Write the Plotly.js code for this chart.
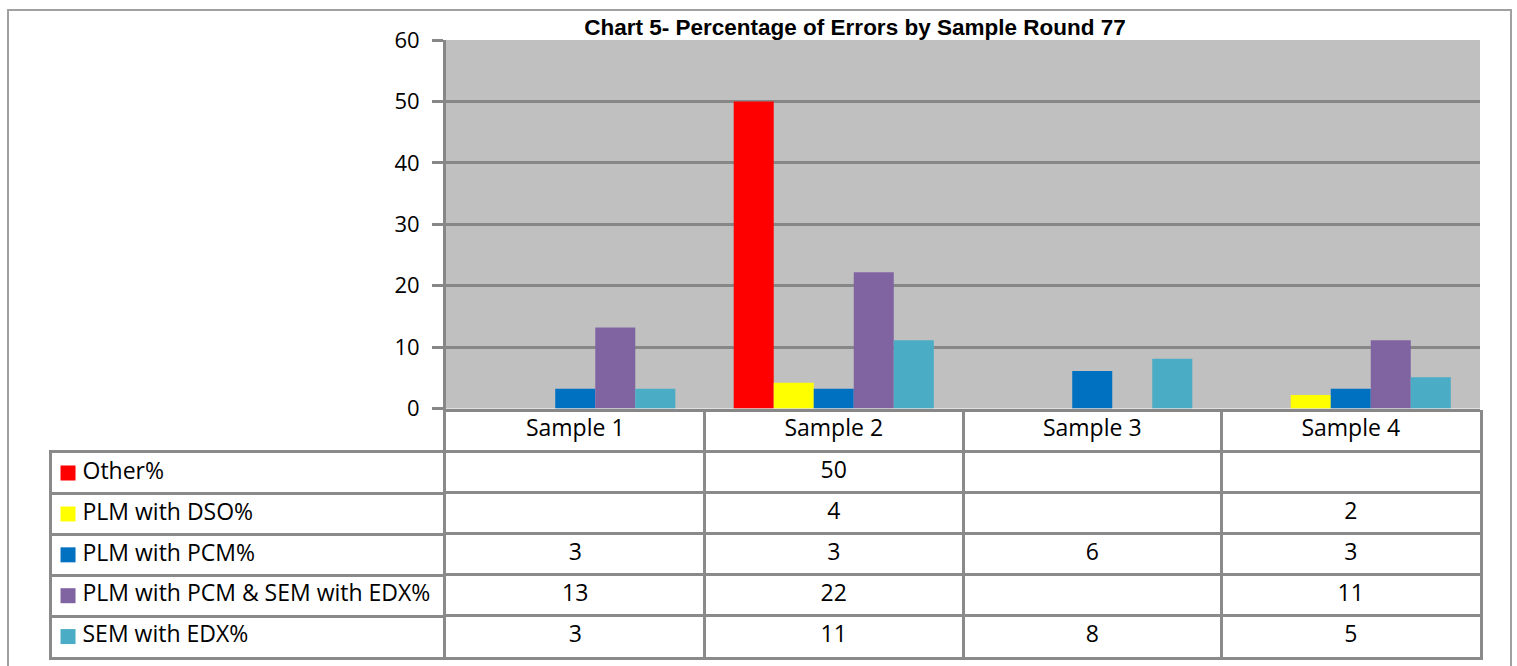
<!DOCTYPE html>
<html>
<head>
<meta charset="utf-8">
<script src="https://cdn.plot.ly/plotly-3.0.1.min.js"></script>
<style>html,body{margin:0;padding:0;background:#fff;}#chart{width:1517px;height:666px;}</style>
</head>
<body>
<div id="chart"></div>
<script>
// ---- data ----
const categories = ["Sample 1", "Sample 2", "Sample 3", "Sample 4"];
const seriesNames = ["Other%", "PLM with DSO%", "PLM with PCM%", "PLM with PCM & SEM with EDX%", "SEM with EDX%"];
const otherPct     = [null, 50,   null, null];
const plmDsoPct    = [null, 4.2,  null, 2.2];
const plmPcmPct    = [3.2,  3.2,  6.1,  3.2];
const plmPcmSemPct = [13.2, 22.2, null, 11.1];
const semEdxPct    = [3.2,  11.1, 8.1,  5.1];
const yTicks = [0, 10, 20, 30, 40, 50, 60];
const chartTitle = "Chart 5- Percentage of Errors by Sample Round 77";

// ---- style ----
const colors = ["#FF0000", "#FFFF00", "#0070C0", "#8064A2", "#4BACC6"];
const allSeries = [otherPct, plmDsoPct, plmPcmPct, plmPcmSemPct, semEdxPct];
const W = 1517, H = 666;
const px = v => v / W, py = v => 1 - v / H;
const gridCol = "#878787";
const tableLine = "#8a8a8a";
const font = "Open Sans, DejaVu Sans, sans-serif";
const txtFont = {family: font, size: 23, color: "#000"};
const HDR = " ";  // header row key of the data table
const rowKeys = [HDR].concat(seriesNames);

// ---- bars ----
const traces = allSeries.map((vals, i) => ({
  type: "bar",
  name: seriesNames[i],
  x: categories,
  y: vals,
  marker: {color: colors[i], line: {width: 0}},
  xaxis: "x", yaxis: "y",
  hoverinfo: "x+y+name"
}));

// ---- data table: sample columns (x2/y2) ----
traces.push({
  type: "scatter", mode: "text",
  x: categories, y: categories.map(() => HDR),
  text: categories,
  textposition: "middle center", textfont: txtFont,
  xaxis: "x2", yaxis: "y2", hoverinfo: "skip"
});
allSeries.forEach((vals, i) => {
  const xs = [], ys = [], ts = [];
  vals.forEach((v, ci) => {
    if (v !== null) { xs.push(categories[ci]); ys.push(seriesNames[i]); ts.push(String(Math.round(v))); }
  });
  traces.push({
    type: "scatter", mode: "text",
    x: xs, y: ys, text: ts,
    textposition: "middle center", textfont: txtFont,
    xaxis: "x2", yaxis: "y2", hoverinfo: "skip"
  });
});

// ---- data table: legend column (x3/y3) ----
traces.push({
  type: "scatter", mode: "markers",
  x: seriesNames.map(() => 0.041), y: seriesNames,
  marker: {symbol: "square", size: 15, color: colors, line: {width: 0}},
  xaxis: "x3", yaxis: "y3", hoverinfo: "skip"
});
traces.push({
  type: "scatter", mode: "text",
  x: seriesNames.map(() => 0.078), y: seriesNames,
  text: seriesNames,
  textposition: "middle right", textfont: txtFont,
  xaxis: "x3", yaxis: "y3", hoverinfo: "skip"
});

const tableTop = 410, tableBottom = 657;
const rowH = (tableBottom - tableTop) / rowKeys.length;

const tableAxis = {
  showticklabels: false, ticks: "",
  showgrid: true, gridcolor: tableLine, gridwidth: 3,
  showline: true, mirror: true, linecolor: tableLine, linewidth: 3,
  zeroline: false, fixedrange: true
};

const layout = {
  width: W, height: H,
  margin: {l: 0, r: 0, t: 0, b: 0},
  paper_bgcolor: "#ffffff",
  plot_bgcolor: "#ffffff",
  showlegend: false,
  barmode: "group",
  bargap: 0.226,
  bargroupgap: 0,
  title: {
    text: "<b>" + chartTitle + "</b>",
    x: px(855), xanchor: "center",
    y: 1 - 27 / H, yanchor: "middle",
    font: {family: "Liberation Sans, Arial, sans-serif", size: 22.5, color: "#000"}
  },
  xaxis: {
    domain: [px(446), px(1480)],
    type: "category", categoryarray: categories,
    showticklabels: false, ticks: "", showgrid: false,
    showline: true, linecolor: gridCol, linewidth: 3,
    fixedrange: true
  },
  yaxis: {
    domain: [py(408.5), py(40)],
    range: [0, 60],
    tickvals: yTicks,
    ticktext: yTicks.map(String),
    showgrid: true, gridcolor: gridCol, gridwidth: 3,
    zeroline: false,
    showline: true, linecolor: gridCol, linewidth: 3,
    ticks: "outside", ticklen: 11, tickwidth: 3, tickcolor: gridCol,
    ticklabelstandoff: 8,
    tickfont: {family: font, size: 22, color: "#000"},
    fixedrange: true
  },
  xaxis2: Object.assign({}, tableAxis, {
    domain: [px(446), px(1480)], anchor: "y2", mirror: false,
    type: "category", categoryorder: "array", categoryarray: categories,
    range: [-0.5, categories.length - 0.5], tickson: "boundaries"
  }),
  yaxis2: Object.assign({}, tableAxis, {
    domain: [py(tableBottom), py(tableTop)], anchor: "x2",
    type: "category", categoryorder: "array", categoryarray: rowKeys,
    range: [rowKeys.length - 0.5, -0.5], tickson: "boundaries"
  }),
  xaxis3: Object.assign({}, tableAxis, {
    domain: [px(52), px(443)], anchor: "y3",
    type: "linear", range: [0, 1], showgrid: false
  }),
  yaxis3: Object.assign({}, tableAxis, {
    domain: [py(tableBottom), py(tableTop + rowH + 1.5)], anchor: "x3",
    type: "category", categoryorder: "array", categoryarray: seriesNames,
    range: [seriesNames.length - 0.5, -0.5], tickson: "boundaries"
  }),
  shapes: [
    {
      type: "rect", xref: "x domain", yref: "y domain",
      x0: 0, x1: 1, y0: 0, y1: 1,
      line: {width: 0}, fillcolor: "#C0C0C0", layer: "below"
    },
    {
      type: "rect", xref: "paper", yref: "paper",
      x0: px(8), x1: px(1511), y0: -0.05, y1: py(10),
      line: {color: "#a0a0a0", width: 2}, fillcolor: "rgba(0,0,0,0)", layer: "below"
    }
  ]
};

Plotly.newPlot("chart", traces, layout, {displayModeBar: false, staticPlot: true});
</script>
</body>
</html>
